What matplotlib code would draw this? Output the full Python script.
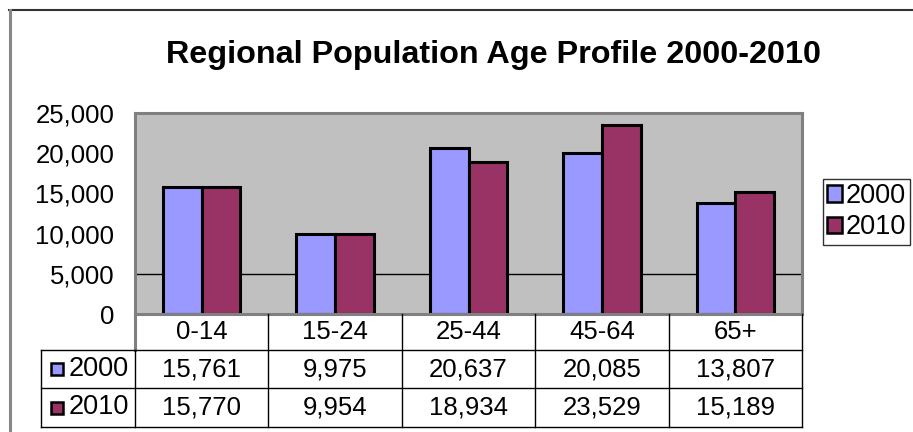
import matplotlib
matplotlib.use('Agg')
import matplotlib.pyplot as plt
import matplotlib.transforms as mtransforms
from matplotlib.patches import Patch
from matplotlib.lines import Line2D

plt.rcParams['font.family'] = ['Liberation Sans', 'DejaVu Sans']

# data
age_groups = ['0-14', '15-24', '25-44', '45-64', '65+']
years = ['2000', '2010']
pop_2000 = [15761, 9975, 20637, 20085, 13807]
pop_2010 = [15770, 9954, 18934, 23529, 15189]
y_ticks = [0, 5000, 10000, 15000, 20000, 25000]
grid_at = [5000]

colors = ['#9999FF', '#993366']
W, H = 913, 432
fig = plt.figure(figsize=(W / 100, H / 100), dpi=100)

# plot area in pixels: left 135, right 802, top 113, bottom 314
ax = fig.add_axes([135 / W, (H - 314) / H, 667 / W, 201 / H])
ax.set_facecolor('#C0C0C0')

bw = 0.29
x = list(range(len(age_groups)))
ax.bar([i - bw / 2 for i in x], pop_2000, width=bw, color=colors[0],
       edgecolor='black', linewidth=2.2, zorder=3)
ax.bar([i + bw / 2 for i in x], pop_2010, width=bw, color=colors[1],
       edgecolor='black', linewidth=2.2, zorder=3)
for g in grid_at:
    ax.axhline(g, color='black', linewidth=1, zorder=1)

ax.set_xlim(-0.5, len(age_groups) - 0.5)
ax.set_ylim(0, 25000)
ax.set_xticks([])
ax.set_yticks(y_ticks)
ax.set_yticklabels([f'{v:,}' for v in y_ticks], fontsize=18.5)
ax.tick_params(axis='y', length=0, pad=15)
for s in ax.spines.values():
    s.set_color('#808080')
    s.set_linewidth(2.2)
    s.set_zorder(4)

# data table below the plot area
tr = mtransforms.blended_transform_factory(ax.transData, ax.transAxes)
ph = 201.0
row_edges = [0, -36 / ph, -74 / ph, -113 / ph]
key_left = -0.5 - 94 / 133.4
right = len(age_groups) - 0.5


def tline(xs, ys, color='black', lw=1.0):
    ax.add_line(Line2D(xs, ys, transform=tr, color=color, linewidth=lw,
                       clip_on=False, zorder=5))


# left axis line continues through header row
tline([-0.5, -0.5], [0, row_edges[1]], color='#808080', lw=2.2)
for b in range(1, len(age_groups) + 1):
    tline([b - 0.5, b - 0.5], [0, row_edges[3]])
tline([-0.5, -0.5], [row_edges[1], row_edges[3]])
tline([key_left, key_left], [row_edges[1], row_edges[3]])
for r in row_edges[1:]:
    tline([key_left, right], [r, r])

for i, lab in enumerate(age_groups):
    ax.text(i, (row_edges[0] + row_edges[1]) / 2, lab, transform=tr,
            ha='center', va='center', fontsize=18.5)

for r, (yr, vals, c) in enumerate(zip(years, [pop_2000, pop_2010], colors)):
    yc = (row_edges[r + 1] + row_edges[r + 2]) / 2
    for i, v in enumerate(vals):
        ax.text(i, yc, f'{v:,}', transform=tr, ha='center', va='center',
                fontsize=18.5)
    ax.plot([key_left + 16 / 133.4], [yc], marker='s', markersize=9,
            markerfacecolor=c, markeredgecolor='black', markeredgewidth=1.8,
            transform=tr, clip_on=False, zorder=6)
    ax.text(key_left + 28 / 133.4, yc, yr, transform=tr, ha='left',
            va='center', fontsize=19.5)

# legend
handles = [Patch(facecolor=c, edgecolor='black', linewidth=1.8) for c in colors]
fig.legend(handles, years, loc='upper left', bbox_to_anchor=(823 / W, 1 - 179 / H),
           fontsize=19.5, frameon=True, fancybox=False, edgecolor='black',
           handlelength=0.55, handleheight=0.55, handletextpad=0.15,
           borderpad=0.15, labelspacing=0.2, borderaxespad=0)

fig.text(493 / W, 1 - 55 / H, 'Regional Population Age Profile 2000-2010',
         ha='center', va='center', fontsize=23.3, fontweight='bold')

# outer chart border (only top and left edges are in frame)
fig.add_artist(Line2D([9 / W, 1], [1 - 10 / H, 1 - 10 / H], color='#333333',
                      linewidth=1.5, transform=fig.transFigure))
fig.add_artist(Line2D([10 / W, 10 / W], [0, 1 - 10 / H], color='#888888',
                      linewidth=2.2, transform=fig.transFigure))

fig.savefig('out.png', dpi=100)
